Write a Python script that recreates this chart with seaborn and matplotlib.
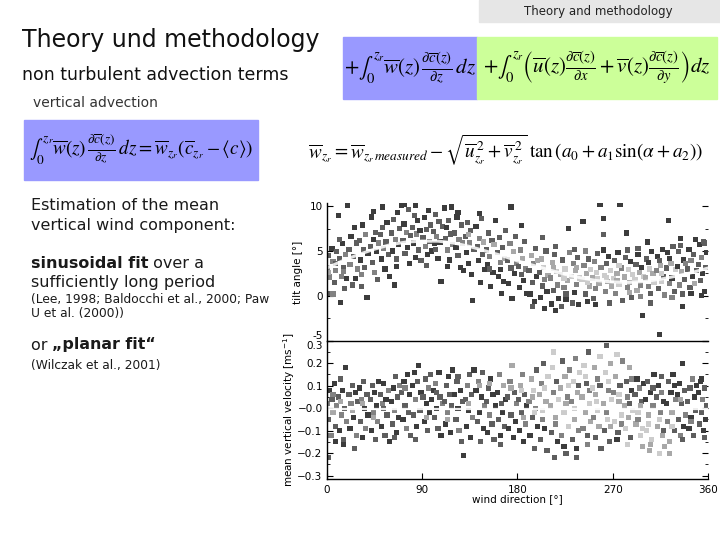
import matplotlib
matplotlib.use("Agg")
import matplotlib.pyplot as plt
from matplotlib.patches import Rectangle
from matplotlib.ticker import MultipleLocator
import pandas as pd
import seaborn as sns

# ---- upper panel: tilt angle vs wind direction ----
tilt_dir = [
    1, 2, 3, 4, 5, 6, 7, 8, 9, 2, 6, 8,
    11, 12, 13, 14, 15, 16, 17, 18, 19, 12, 16,
    20, 21, 22, 23, 24, 25, 27, 28, 29, 26,
    31, 32, 33, 34, 35, 36, 38, 37, 39, 33,
    41, 42, 43, 44, 45, 46, 47, 48, 49, 44,
    51, 52, 53, 54, 55, 56, 57, 58, 59, 53,
    61, 62, 63, 64, 65, 66, 67, 68, 69, 66,
    71, 72, 73, 74, 75, 76, 77, 78, 79, 73,
    81, 82, 83, 84, 85, 86, 87, 88, 89, 84,
    91, 92, 93, 94, 95, 96, 97, 98, 99, 94,
    101, 102, 103, 104, 105, 106, 107, 108, 109, 103,
    111, 112, 113, 114, 115, 116, 117, 118, 119, 114,
    121, 122, 123, 124, 125, 126, 127, 128, 129, 124,
    131, 132, 133, 134, 135, 136, 137, 138, 139, 134,
    141, 142, 143, 144, 145, 146, 147, 148, 149, 144,
    151, 152, 153, 154, 155, 156, 157, 158, 159, 154,
    161, 162, 163, 164, 165, 166, 167, 168, 169, 164,
    171, 172, 173, 174, 175, 176, 177, 178, 179, 174,
    181, 182, 183, 184, 185, 186, 187, 188, 189, 184,
    191, 192, 193, 194, 195, 196, 197, 198, 199, 194,
    201, 202, 203, 204, 205, 206, 207, 208, 209, 204, 206,
    211, 212, 213, 214, 215, 216, 217, 218, 219, 214, 216,
    221, 222, 223, 224, 225, 226, 227, 228, 229, 224, 226,
    231, 232, 233, 234, 235, 236, 237, 238, 239, 234, 236,
    241, 242, 243, 244, 245, 246, 247, 248, 249, 244, 246,
    251, 252, 253, 254, 255, 256, 257, 258, 259, 254, 256,
    261, 261, 261, 262, 263, 264, 265, 266, 267, 268, 269, 264,
    271, 272, 273, 274, 275, 276, 277, 278, 279, 274, 276,
    281, 282, 283, 284, 285, 286, 287, 288, 289, 284, 286,
    291, 292, 293, 294, 295, 296, 297, 298, 299, 294, 296,
    301, 302, 303, 304, 305, 306, 307, 308, 309, 304, 306,
    311, 312, 313, 314, 315, 316, 317, 318, 319, 314, 316,
    321, 322, 323, 324, 325, 326, 327, 328, 329, 324, 326,
    331, 332, 333, 334, 335, 336, 337, 338, 339, 334, 336,
    341, 342, 343, 344, 345, 346, 347, 348, 349, 344,
    351, 352, 353, 354, 355, 356, 357, 358, 359, 354, 357,
]
tilt_val = [
    3.2, 4.5, 2.1, 0.3, 5.3, 3.8, 1.5, 2.8, 4.9, 2.6, 0.2, 3.6,
    9.0, 4.2, -0.7, 2.2, 5.8, 3.1, 0.8, 4.6, 1.9, 6.3, 2.7,
    10.1, 5.2, 3.5, 6.6, 1.2, 4.4, 1.9, 5.9, 3.0, 7.6,
    6.2, 4.0, 2.4, 7.9, 5.1, 3.2, -0.2, 6.8, 4.7, 1.0,
    5.5, 8.8, 3.7, 6.3, 2.6, 7.1, 4.9, 1.8, 5.9, 9.4,
    6.8, 4.1, 7.6, 5.3, 3.0, 6.0, 8.2, 4.6, 2.2, 9.9,
    7.0, 5.0, 8.5, 1.2, 6.3, 4.1, 9.3, 5.7, 7.5, 3.3,
    10.1, 6.2, 8.0, 4.7, 7.1, 5.4, 9.6, 3.6, 6.7, 10.2,
    7.6, 5.9, 9.0, 4.3, 6.9, 8.4, 5.1, 7.3, 3.9, 10.1,
    6.5, 8.7, 5.5, 7.4, 4.6, 9.5, 6.1, 7.9, 5.0, 3.4,
    7.2, 5.8, 9.1, 6.6, 4.2, 8.3, 6.0, 1.6, 7.7, 5.2,
    9.8, 6.4, 7.6, 5.1, 8.4, 4.0, 6.9, 9.9, 5.7, 3.3,
    7.0, 5.4, 8.8, 4.5, 6.3, 3.2, 7.9, 5.9, 2.8, 9.3,
    6.6, 4.8, 8.2, 3.6, 5.9, 7.3, 2.4, -0.5, 5.2, 6.8,
    7.7, 5.5, 3.9, 6.4, 1.5, 8.6, 4.6, 6.0, 2.9, 9.2,
    5.1, 3.5, 7.0, 4.4, 1.0, 6.2, 2.6, 5.7, 8.4, 3.0,
    4.8, 2.2, 6.5, 3.7, 0.3, 5.4, 1.6, 4.2, 7.3, 2.9,
    4.0, 1.4, 5.8, 3.1, -0.3, 4.9, 2.5, 6.6, 3.6, 9.9,
    3.3, 0.9, 5.1, 2.4, 4.2, 1.7, 6.1, 3.0, 0.3, 7.8,
    2.8, 0.2, 4.5, 1.5, 3.6, -0.6, 5.3, 2.2, 3.9, -1.2,
    2.6, -0.2, 4.1, 1.1, 3.2, -1.4, 5.0, 0.5, 2.3, 6.5, 1.8,
    2.0, -0.9, 3.7, 0.6, 4.6, -1.6, 2.7, 1.2, -0.3, 3.1, 5.5,
    2.4, -1.2, 4.0, 0.9, 3.0, -0.4, 1.7, 7.5, 4.8, 2.0, 0.2,
    2.2, -0.8, 3.6, 0.4, 2.8, 1.3, 4.3, -1.0, 2.0, 5.2, 3.2,
    1.8, 8.3, 3.4, 0.2, 2.5, -0.6, 4.1, 1.1, 2.9, 5.0, 1.5,
    2.0, -0.3, 3.8, 0.8, 2.6, 4.7, 1.4, 10.2, 3.2, -1.0, 1.9,
    8.6, 6.8, 5.1, 2.3, 0.5, 3.6, 1.6, 4.4, -0.8, 2.8, 1.1, 2.0,
    1.9, 3.9, 0.3, 2.5, 4.8, 1.3, 10.2, 3.1, -0.5, 1.7, 3.4,
    2.1, 4.3, 7.0, 0.9, 2.9, 1.5, 3.8, -0.2, 2.4, 5.1, 0.4,
    1.8, 3.5, 0.6, 4.6, 2.6, 1.2, 3.2, -2.2, 2.2, 5.3, -0.1,
    2.0, 4.1, 6.0, 1.0, 3.0, 0.3, 4.9, 2.5, 1.5, 3.7, -0.8,
    2.8, 4.4, 0.8, -4.3, 3.4, 1.6, 5.2, 2.2, 0.1, 3.9, 2.5,
    3.1, 4.8, 8.4, 1.4, 3.6, 2.0, 5.5, 0.5, 2.9, 4.2, -0.2,
    3.3, 4.9, 1.2, 6.4, 2.7, 0.2, 4.0, 1.8, 3.6, 5.6, -1.2,
    3.0, 5.2, 0.9, 3.9, 2.2, 4.6, 1.4, 6.3, 2.8, 0.3,
    3.5, 5.7, 1.7, 4.3, 2.5, 6.1, 0.5, 3.2, 4.8, 0.0, 5.9,
]
tilt_shade = [
    2, 1, 2, 1, 0, 2, 1, 2, 1, 3, 2, 1,
    0, 1, 0, 2, 0, 1, 1, 2, 0, 1, 2,
    0, 1, 2, 0, 1, 1, 0, 1, 2, 0,
    1, 0, 2, 0, 1, 1, 0, 2, 0, 1,
    1, 0, 1, 0, 2, 1, 0, 1, 2, 0,
    1, 0, 1, 2, 0, 1, 0, 1, 0, 0,
    1, 0, 1, 0, 2, 1, 0, 0, 1, 0,
    0, 1, 0, 1, 2, 0, 1, 0, 1, 0,
    1, 0, 1, 0, 2, 0, 1, 0, 1, 0,
    1, 0, 2, 1, 0, 0, 1, 1, 0, 1,
    1, 0, 1, 2, 0, 1, 0, 0, 1, 1,
    0, 1, 0, 2, 1, 0, 1, 0, 2, 0,
    1, 0, 0, 1, 2, 0, 1, 2, 0, 0,
    1, 0, 1, 0, 2, 1, 0, 0, 1, 3,
    0, 1, 0, 2, 0, 1, 1, 3, 0, 0,
    1, 0, 1, 2, 0, 1, 0, 3, 0, 1,
    1, 0, 1, 2, 0, 1, 0, 3, 1, 0,
    1, 0, 2, 1, 0, 3, 0, 1, 2, 0,
    1, 0, 2, 1, 3, 0, 1, 2, 0, 0,
    1, 0, 3, 1, 2, 0, 1, 0, 3, 1,
    1, 0, 3, 1, 4, 0, 1, 0, 3, 1, 2,
    2, 0, 3, 1, 1, 0, 4, 2, 0, 3, 1,
    3, 1, 1, 2, 4, 0, 3, 0, 2, 4, 1,
    4, 1, 2, 0, 3, 2, 1, 0, 4, 1, 3,
    4, 0, 2, 1, 3, 0, 1, 3, 4, 2, 4,
    3, 1, 2, 2, 4, 1, 3, 0, 2, 0, 4,
    0, 1, 0, 4, 2, 1, 3, 0, 1, 4, 3, 4,
    4, 1, 2, 3, 0, 4, 0, 2, 1, 3, 4,
    3, 1, 0, 2, 4, 3, 0, 1, 4, 1, 3,
    4, 1, 3, 0, 3, 2, 0, 0, 4, 1, 2,
    3, 1, 0, 2, 4, 1, 0, 3, 4, 0, 1,
    2, 0, 1, 0, 3, 4, 0, 1, 2, 1, 4,
    1, 0, 0, 2, 3, 0, 1, 1, 4, 0, 2,
    0, 1, 2, 0, 3, 1, 0, 1, 2, 1, 0,
    1, 0, 1, 2, 0, 1, 3, 0, 1, 0,
    1, 0, 1, 2, 0, 1, 0, 1, 0, 0, 1,
]

# white sinusoidal fit line
fit_dir = [0, 15, 30, 45, 60, 75, 90, 105, 120, 135, 150, 165, 180,
           195, 210, 225, 240, 255, 270, 285, 300, 315, 330, 345, 360]
fit_tilt = [3.1, 3.9, 4.6, 5.2, 5.7, 6.0, 6.1, 6.1, 5.9, 5.5, 5.0, 4.5, 3.9,
            3.4, 2.9, 2.4, 2.0, 1.7, 1.55, 1.5, 1.6, 1.85, 2.2, 2.6, 3.1]

# ---- lower panel: mean vertical velocity vs wind direction ----
w_dir = [
    1, 2, 3, 4, 5, 6, 7, 8, 9, 2, 6, 8,
    11, 12, 13, 14, 15, 16, 17, 18, 19, 13, 16,
    21, 22, 23, 24, 25, 26, 27, 28, 29, 24,
    31, 32, 33, 34, 35, 36, 37, 38, 39, 34,
    41, 42, 43, 44, 45, 46, 47, 48, 49, 44,
    51, 52, 53, 54, 55, 56, 57, 58, 59, 54,
    61, 62, 63, 64, 65, 66, 67, 68, 69, 64,
    71, 72, 73, 74, 75, 76, 77, 78, 79, 74,
    81, 82, 83, 84, 85, 86, 87, 88, 89, 84,
    91, 92, 93, 94, 95, 96, 97, 98, 99, 94,
    101, 102, 103, 104, 105, 106, 107, 108, 109, 104,
    111, 112, 113, 114, 115, 116, 117, 118, 119, 114,
    121, 122, 123, 124, 125, 126, 127, 128, 129, 124,
    131, 132, 133, 134, 135, 136, 137, 138, 139, 134,
    141, 142, 143, 144, 145, 146, 147, 148, 149, 144,
    151, 152, 153, 154, 155, 156, 157, 158, 159, 154,
    161, 162, 163, 164, 165, 166, 167, 168, 169, 164,
    171, 172, 173, 174, 175, 176, 177, 178, 179, 174,
    181, 182, 183, 184, 185, 186, 187, 188, 189, 184, 186,
    191, 192, 193, 194, 195, 196, 197, 198, 199, 194, 196,
    201, 202, 203, 204, 205, 206, 207, 208, 209, 204, 206,
    211, 212, 213, 214, 215, 216, 217, 218, 219, 214, 216,
    221, 222, 223, 224, 225, 226, 227, 228, 229, 224, 226, 228,
    231, 232, 233, 234, 235, 236, 237, 238, 239, 234, 236, 238,
    241, 242, 243, 244, 245, 246, 247, 248, 249, 244, 246, 248,
    251, 252, 253, 254, 255, 256, 257, 258, 259, 254, 256, 258,
    261, 262, 263, 264, 265, 266, 267, 268, 269, 264, 266, 268,
    271, 272, 273, 274, 275, 276, 277, 278, 279, 274, 276, 278,
    281, 282, 283, 284, 285, 286, 287, 288, 289, 284, 286, 288,
    291, 292, 293, 294, 295, 296, 297, 298, 299, 294, 296, 298,
    301, 302, 303, 304, 305, 306, 307, 308, 309, 304, 306, 308,
    311, 312, 313, 314, 315, 316, 317, 318, 319, 314, 316, 318,
    321, 322, 323, 324, 325, 326, 327, 328, 329, 324, 326, 328,
    331, 332, 333, 334, 335, 336, 337, 338, 339, 334, 336,
    341, 342, 343, 344, 345, 346, 347, 348, 349, 344,
    351, 352, 353, 354, 355, 356, 357, 358, 359, 354, 357,
]
w_val = [
    0.02, -0.05, 0.08, -0.12, 0.04, -0.02, 0.11, -0.08, 0.01, -0.22, 0.06, -0.15,
    0.05, -0.10, 0.13, -0.03, 0.08, -0.14, 0.00, 0.18, -0.06, 0.03, -0.16,
    0.06, -0.09, 0.02, 0.10, -0.04, -0.18, 0.07, -0.12, 0.03, -0.01,
    0.09, -0.06, 0.04, -0.13, 0.12, 0.00, -0.09, 0.06, -0.03, 0.02,
    0.04, -0.10, 0.10, -0.02, 0.07, -0.14, 0.01, -0.06, 0.12, -0.04,
    0.06, -0.08, 0.02, 0.11, -0.12, 0.04, -0.03, 0.08, -0.15, 0.00,
    0.03, -0.07, 0.09, -0.01, 0.14, -0.11, 0.05, -0.04, 0.10, -0.13,
    0.07, -0.05, 0.12, 0.01, -0.09, 0.15, -0.02, 0.06, -0.12, 0.09,
    0.10, -0.03, 0.16, 0.04, -0.08, 0.12, 0.19, -0.01, 0.07, -0.14,
    0.05, -0.06, 0.13, 0.02, -0.10, 0.09, -0.02, 0.15, 0.04, -0.04,
    0.08, -0.04, 0.11, 0.00, -0.09, 0.16, 0.05, -0.12, 0.02, 0.07,
    0.03, -0.07, 0.10, -0.02, 0.14, 0.06, -0.11, 0.01, 0.17, -0.05,
    0.06, -0.05, 0.12, 0.00, -0.10, 0.08, -0.15, 0.03, -0.21, 0.14,
    0.04, -0.08, 0.10, -0.01, 0.15, -0.13, 0.06, -0.04, 0.17, 0.02,
    0.08, -0.06, 0.12, -0.02, -0.15, 0.05, 0.16, -0.09, 0.01, 0.10,
    0.03, -0.11, 0.09, -0.03, 0.13, -0.07, 0.06, -0.14, 0.01, 0.11,
    0.07, -0.05, 0.15, -0.12, 0.02, -0.02, 0.10, -0.08, 0.04, -0.16,
    0.05, -0.09, 0.12, -0.03, 0.19, -0.13, 0.07, -0.06, 0.02, 0.09,
    0.04, -0.10, 0.10, -0.02, 0.15, -0.15, 0.06, -0.07, 0.01, 0.08, -0.04,
    0.03, -0.12, 0.13, -0.04, 0.08, -0.18, 0.00, 0.17, -0.08, 0.05, -0.02,
    0.06, -0.14, 0.11, -0.01, 0.20, -0.09, 0.03, -0.19, 0.14, -0.05, 0.09,
    0.01, -0.11, 0.18, 0.07, -0.22, -0.04, 0.12, -0.15, 0.04, 0.25, -0.07,
    0.09, -0.12, 0.21, -0.02, 0.14, -0.20, 0.05, -0.08, 0.17, -0.17, 0.02, 0.10,
    0.03, -0.14, 0.12, -0.05, 0.22, -0.22, 0.07, -0.10, 0.16, 0.00, -0.18, 0.10,
    0.05, -0.09, 0.19, -0.02, 0.11, -0.16, 0.25, 0.02, -0.06, 0.14, -0.12, 0.08,
    0.09, -0.04, 0.18, -0.13, 0.03, 0.13, -0.08, 0.23, -0.18, 0.06, -0.01, 0.10,
    0.02, -0.10, 0.16, 0.28, -0.05, 0.08, -0.15, 0.20, 0.04, -0.02, 0.12, -0.08,
    0.07, -0.06, 0.14, 0.24, -0.11, 0.03, 0.10, -0.03, 0.21, -0.14, 0.06, -0.07,
    0.01, -0.09, 0.12, 0.05, -0.04, 0.18, -0.13, 0.08, -0.01, -0.16, 0.02, 0.13,
    0.06, -0.07, 0.13, -0.02, 0.09, -0.12, 0.03, -0.17, 0.11, -0.05, 0.01, -0.09,
    0.04, -0.10, 0.12, -0.03, -0.19, 0.07, -0.14, 0.01, 0.15, -0.07, -0.16, 0.09,
    0.05, -0.08, 0.10, -0.20, -0.02, 0.14, -0.12, 0.03, -0.17, -0.05, 0.07, -0.10,
    0.02, -0.06, 0.12, -0.15, 0.07, -0.02, 0.15, -0.10, 0.04, -0.20, -0.08, 0.10,
    0.06, -0.05, 0.11, -0.12, 0.02, 0.20, -0.08, 0.08, -0.03, 0.04, -0.14,
    0.03, -0.09, 0.09, -0.04, 0.13, -0.12, 0.05, -0.01, 0.10, -0.06,
    0.07, -0.07, 0.12, -0.02, 0.04, -0.10, 0.09, -0.05, 0.01, 0.13, -0.13,
]
w_shade = [
    2, 1, 0, 2, 1, 3, 0, 1, 2, 1, 2, 0,
    1, 0, 1, 2, 0, 1, 1, 0, 2, 3, 0,
    1, 0, 2, 1, 0, 1, 0, 2, 1, 3,
    0, 1, 2, 0, 1, 0, 2, 1, 0, 3,
    1, 0, 1, 2, 0, 1, 0, 2, 0, 3,
    1, 0, 2, 0, 1, 0, 1, 2, 0, 1,
    0, 1, 0, 2, 1, 0, 1, 0, 2, 1,
    1, 0, 0, 1, 2, 0, 1, 0, 1, 2,
    0, 1, 0, 2, 0, 1, 0, 1, 0, 1,
    1, 0, 1, 0, 1, 2, 0, 1, 0, 3,
    0, 1, 2, 0, 1, 0, 1, 0, 2, 1,
    1, 0, 1, 2, 0, 1, 0, 1, 0, 3,
    0, 1, 1, 0, 2, 0, 1, 1, 0, 1,
    1, 0, 2, 0, 1, 0, 1, 2, 0, 3,
    0, 1, 2, 0, 1, 0, 1, 0, 2, 3,
    1, 0, 1, 2, 0, 1, 0, 1, 0, 3,
    0, 1, 2, 0, 1, 0, 3, 1, 0, 1,
    1, 0, 2, 1, 3, 0, 1, 0, 2, 3,
    1, 0, 3, 1, 2, 0, 1, 2, 0, 4, 3,
    2, 0, 3, 1, 4, 1, 2, 1, 0, 3, 4,
    3, 1, 2, 4, 1, 0, 3, 1, 4, 2, 4,
    3, 1, 4, 2, 1, 3, 1, 0, 4, 4, 2,
    3, 2, 1, 4, 3, 1, 2, 4, 2, 0, 3, 4,
    2, 1, 4, 3, 2, 1, 3, 2, 4, 4, 0, 1,
    3, 2, 4, 3, 1, 2, 1, 4, 3, 4, 1, 2,
    4, 2, 3, 1, 4, 2, 3, 4, 1, 3, 4, 1,
    3, 1, 4, 1, 4, 2, 1, 3, 4, 2, 4, 3,
    2, 4, 3, 4, 1, 3, 1, 4, 2, 0, 4, 2,
    3, 4, 1, 2, 3, 3, 1, 0, 4, 4, 1, 2,
    1, 3, 0, 4, 2, 4, 1, 3, 0, 2, 3, 4,
    0, 4, 1, 3, 3, 0, 4, 2, 0, 4, 3, 1,
    1, 3, 0, 4, 2, 1, 3, 0, 3, 4, 2, 1,
    0, 2, 1, 3, 0, 3, 0, 1, 2, 3, 4, 0,
    0, 1, 0, 2, 1, 0, 0, 1, 2, 3, 1,
    1, 0, 1, 0, 2, 1, 0, 1, 0, 2,
    0, 1, 0, 1, 2, 0, 1, 0, 1, 0, 1,
]

grays = {0: "#3c3c3c", 1: "#5e5e5e", 2: "#828282", 3: "#a8a8a8", 4: "#cccccc"}

top_df = pd.DataFrame({"dir": tilt_dir, "tilt": tilt_val, "shade": tilt_shade})
bot_df = pd.DataFrame({"dir": w_dir, "w": w_val, "shade": w_shade})

sns.set_theme(style="white")
plt.rcParams["font.family"] = ["DejaVu Sans"]
plt.rcParams["mathtext.fontset"] = "stix"

W, H = 720, 540
fig = plt.figure(figsize=(7.2, 5.4), dpi=100)
fig.patch.set_facecolor("white")


def fx(x):
    return x / W


def fy(y):
    return 1 - y / H


def box(x0, y0, x1, y1, color):
    fig.patches.append(Rectangle((fx(x0), fy(y1)), (x1 - x0) / W, (y1 - y0) / H,
                                 transform=fig.transFigure, color=color, zorder=0))


def text_run(x, y, pieces, size, color="#1a1a1a"):
    r = fig.canvas.get_renderer()
    for s, weight in pieces:
        t = fig.text(fx(x), fy(y), s, fontsize=size, fontweight=weight,
                     color=color, va="center", ha="left")
        x += t.get_window_extent(r).width


# header tab
box(479, 0, 720, 22, "#e6e6e6")
fig.text(fx(598), fy(12), "Theory and methodology", fontsize=8.5, color="#222222",
         ha="center", va="center")

fig.text(fx(22), fy(40), "Theory und methodology", fontsize=17, color="#111111",
         ha="left", va="center")
fig.text(fx(22), fy(75), "non turbulent advection terms", fontsize=12.5, color="#111111",
         ha="left", va="center")
fig.text(fx(33), fy(103), "vertical advection", fontsize=10, color="#333333",
         ha="left", va="center")

# formula boxes
box(343, 37, 477, 99, "#9999ff")
box(477, 37, 717, 99, "#ccff99")
box(24, 120, 258, 180, "#9999ff")

f1 = r"$+\int_{0}^{z_r}\overline{w}(z)\,\frac{\partial\overline{c}(z)}{\partial z}\,dz$"
f2 = (r"$+\int_{0}^{z_r}\left(\overline{u}(z)\frac{\partial\overline{c}(z)}{\partial x}"
      r"+\overline{v}(z)\frac{\partial\overline{c}(z)}{\partial y}\right)dz$")
f3 = (r"$\int_{0}^{z_r}\overline{w}(z)\,\frac{\partial\overline{c}(z)}{\partial z}\,dz"
      r"=\overline{w}_{z_r}\left(\overline{c}_{z_r}-\langle c\rangle\right)$")
f4 = (r"$\overline{w}_{z_r}=\overline{w}_{z_r\,measured}-"
      r"\sqrt{\overline{u}_{z_r}^{\,2}+\overline{v}_{z_r}^{\,2}}\;"
      r"\tan\left(a_0+a_1\sin(\alpha+a_2)\right)$")
fig.text(fx(410), fy(68), f1, fontsize=15, ha="center", va="center", color="black")
fig.text(fx(597), fy(68), f2, fontsize=15, ha="center", va="center", color="black")
fig.text(fx(141), fy(150), f3, fontsize=13.8, ha="center", va="center", color="black")
fig.text(fx(308), fy(150), f4, fontsize=13.8, ha="left", va="center", color="black")

# left column text
text_run(31, 205, [("Estimation of the mean", "normal")], 11.5)
text_run(31, 225, [("vertical wind component:", "normal")], 11.5)
text_run(31, 263, [("sinusoidal fit", "bold"), (" over a", "normal")], 11.5)
text_run(31, 282, [("sufficiently long period", "normal")], 11.5)
text_run(31, 299, [("(Lee, 1998; Baldocchi et al., 2000; Paw", "normal")], 8.8)
text_run(31, 313, [("U et al. (2000))", "normal")], 8.8)
text_run(31, 345, [("or ", "normal"), ("\u201eplanar fit\u201c", "bold")], 11.4)
text_run(31, 365, [("(Wilczak et al., 2001)", "normal")], 8.8)

# ---- chart panels ----
ax_top = fig.add_axes([fx(326.7), fy(340.7), 381.3 / W, 137.7 / H])
ax_bot = fig.add_axes([fx(326.7), fy(479), 381.3 / W, 138.3 / H])

sns.scatterplot(data=top_df, x="dir", y="tilt", hue="shade", palette=grays,
                marker="s", s=14, linewidth=0, legend=False, ax=ax_top)
sns.lineplot(x=fit_dir, y=fit_tilt, color="white", linewidth=2.2, alpha=0.85, ax=ax_top)

sns.scatterplot(data=bot_df, x="dir", y="w", hue="shade", palette=grays,
                marker="s", s=14, linewidth=0, legend=False, ax=ax_bot)
ax_bot.axhline(-0.005, color="white", linewidth=1.6, alpha=0.9)

for ax in (ax_top, ax_bot):
    ax.set_xlim(0, 360)
    ax.set_facecolor("none")
    ax.spines["top"].set_visible(False)
    ax.spines["right"].set_visible(False)
    for side in ("left", "bottom"):
        ax.spines[side].set_color("black")
        ax.spines[side].set_linewidth(1.0)
    ax.set_xlabel("")
    ax.set_ylabel("")
    ax.tick_params(axis="y", which="both", direction="in", left=True, right=True,
                   labelsize=7.5, pad=3, colors="black")
    ax.tick_params(axis="y", which="major", length=4, width=0.8)
    ax.tick_params(axis="y", which="minor", length=2.5, width=0.6)

ax_top.set_ylim(-5, 10.35)
ax_top.set_yticks([-5, 0, 5, 10])
ax_top.set_yticklabels(["-5", "0", "5", "10"])
ax_top.yaxis.set_minor_locator(MultipleLocator(2.5))
ax_top.set_xticks([180])
ax_top.tick_params(axis="x", direction="inout", length=6, width=0.8, labelbottom=False)

ax_bot.set_ylim(-0.315, 0.3)
ax_bot.set_yticks([-0.3, -0.2, -0.1, 0.0, 0.1, 0.2, 0.3])
ax_bot.set_yticklabels(["\u22120.3", "\u22120.2", "\u22120.1", "\u22120.0", "0.1", "0.2", "0.3"])
ax_bot.yaxis.set_minor_locator(MultipleLocator(0.05))
ax_bot.set_xticks([0, 90, 180, 270, 360])
ax_bot.set_xticklabels(["0", "90", "180", "270", "360"])
ax_bot.tick_params(axis="x", direction="in", length=4, width=0.8, labelsize=7.5,
                   pad=4, colors="black", bottom=True)

# the "-5" of the upper panel and the "0.3" of the lower one share a level:
# lift one and drop the other so both stay readable
ax_top.get_yticklabels()[0].set_verticalalignment("bottom")
ax_bot.get_yticklabels()[-1].set_verticalalignment("top")

fig.text(fx(298), fy(272), "tilt angle [\u00b0]", rotation=90, fontsize=7.5,
         ha="center", va="center", color="black")
fig.text(fx(289), fy(410), "mean vertical velocity [ms$^{-1}$]", rotation=90, fontsize=7.5,
         ha="center", va="center", color="black", math_fontfamily="dejavusans")
fig.text(fx(517), fy(499), "wind direction [\u00b0]", fontsize=7.5,
         ha="center", va="center", color="black")

fig.savefig("out.png", dpi=100, facecolor="white")
